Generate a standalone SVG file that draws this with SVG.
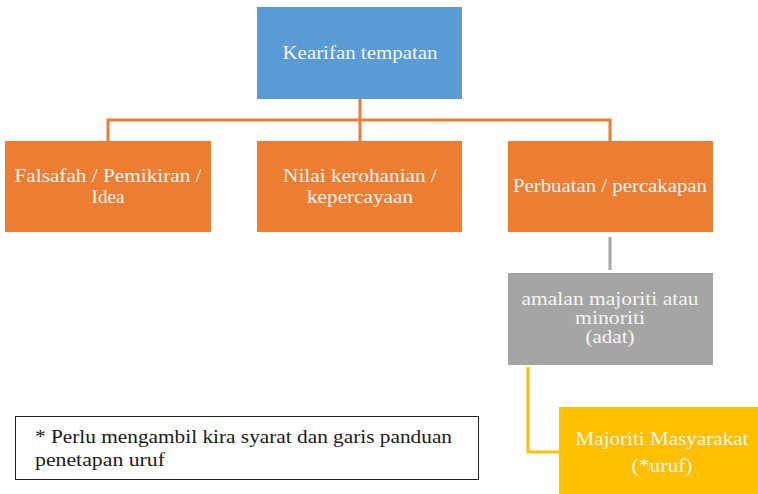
<svg xmlns="http://www.w3.org/2000/svg" width="758" height="494" viewBox="0 0 758 494">
<style>
.t{font-family:"Liberation Serif","Times New Roman",serif;font-size:18px;fill:#f4f4f4;text-anchor:middle}
.n{font-family:"Liberation Serif","Times New Roman",serif;font-size:18px;fill:#1a1a1a}
.blue{fill:#5B9BD5}
.orange{fill:#ED7D31}
.gray{fill:#A5A5A5}
.yellow{fill:#FFC000}
</style>
<rect width="758" height="494" fill="#ffffff"/>
<g id="connectors" fill="none" stroke-width="3">
<path d="M360 99V141" stroke="#ED7D31"/>
<path d="M108 141V120H610V141" stroke="#ED7D31"/>
<path d="M610 237V270" stroke="#A5A5A5"/>
<path d="M528 367V452H559" stroke="#FFC000"/>
</g>
<g id="kearifan">
<rect class="blue" x="257" y="7" width="205" height="92"/>
<text class="t" x="360" y="59" textLength="155" lengthAdjust="spacingAndGlyphs">Kearifan tempatan</text>
</g>
<g id="falsafah">
<rect class="orange" x="5" y="141" width="206" height="91"/>
<text class="t" x="108" y="182" textLength="187" lengthAdjust="spacingAndGlyphs">Falsafah / Pemikiran /</text>
<text class="t" x="108" y="203" textLength="33" lengthAdjust="spacingAndGlyphs">Idea</text>
</g>
<g id="nilai">
<rect class="orange" x="257" y="141" width="205" height="91"/>
<text class="t" x="360" y="182" textLength="154" lengthAdjust="spacingAndGlyphs">Nilai kerohanian /</text>
<text class="t" x="360" y="203" textLength="106" lengthAdjust="spacingAndGlyphs">kepercayaan</text>
</g>
<g id="perbuatan">
<rect class="orange" x="508" y="141" width="205" height="91"/>
<text class="t" x="610" y="192" textLength="194" lengthAdjust="spacingAndGlyphs">Perbuatan / percakapan</text>
</g>
<g id="amalan">
<rect class="gray" x="508" y="273" width="205" height="92"/>
<text class="t" x="610" y="305" textLength="177" lengthAdjust="spacingAndGlyphs">amalan majoriti atau</text>
<text class="t" x="610" y="324" textLength="70" lengthAdjust="spacingAndGlyphs">minoriti</text>
<text class="t" x="610" y="343" textLength="49" lengthAdjust="spacingAndGlyphs">(adat)</text>
</g>
<g id="majoriti">
<rect class="yellow" x="559" y="407" width="199" height="87"/>
<text class="t" x="662" y="445" textLength="173" lengthAdjust="spacingAndGlyphs">Majoriti Masyarakat</text>
<text class="t" x="662" y="472" textLength="61" lengthAdjust="spacingAndGlyphs">(*uruf)</text>
</g>
<g id="note">
<rect x="15.5" y="416.5" width="463" height="63" fill="#ffffff" stroke="#222222" stroke-width="1"/>
<text class="n" x="35" y="443" textLength="417" lengthAdjust="spacingAndGlyphs">* Perlu mengambil kira syarat dan garis panduan</text>
<text class="n" x="35" y="466" textLength="130" lengthAdjust="spacingAndGlyphs">penetapan uruf</text>
</g>
</svg>
